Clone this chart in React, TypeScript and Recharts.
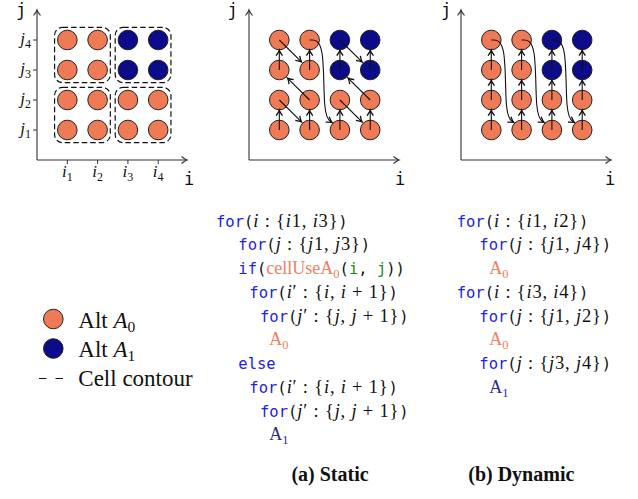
import React from "react";
import { ScatterChart, Scatter, XAxis, YAxis, ReferenceArea } from "recharts";

// grid of cells
const cellI = [1, 2, 3, 4];
const cellJ = [1, 2, 3, 4];
// alternative per cell, rows j1..j4, columns i1..i4
const cellAlt = [
  [0, 0, 0, 0],
  [0, 0, 0, 0],
  [0, 0, 1, 1],
  [0, 0, 1, 1],
];
const iTickLabels = ["1", "2", "3", "4"];
const jTickLabels = ["1", "2", "3", "4"];

// cell contours: [iFrom, iTo, jFrom, jTo]
const cellBlocks = [
  [1, 2, 1, 2],
  [3, 4, 1, 2],
  [1, 2, 3, 4],
  [3, 4, 3, 4],
];

// visiting order of the cells (i, j)
const staticOrder = [
  [1, 1], [1, 2], [2, 1], [2, 2],
  [1, 3], [1, 4], [2, 3], [2, 4],
  [3, 1], [3, 2], [4, 1], [4, 2],
  [3, 3], [3, 4], [4, 3], [4, 4],
];
const dynamicOrder = [
  [1, 1], [1, 2], [1, 3], [1, 4],
  [2, 1], [2, 2], [2, 3], [2, 4],
  [3, 1], [3, 2], [3, 3], [3, 4],
  [4, 1], [4, 2], [4, 3], [4, 4],
];

type Seg = [string, string, string?];

const staticCode: [number, Seg[]][] = [
  [216, [["kw", "for"], ["m", "("], ["x", "i : {i1, i3}"], ["m", ")"]]],
  [238.3, [["kw", "for"], ["m", "("], ["x", "j : {j1, j3}"], ["m", ")"]]],
  [238.3, [["kw", "if"], ["m", "("], ["c0", "cellUseA", "0"], ["m", "("], ["g", "i"], ["m", ", "], ["g", "j"], ["m", "))"]]],
  [249.3, [["kw", "for"], ["m", "("], ["x", "i\u2032 : {i, i + 1}"], ["m", ")"]]],
  [260, [["kw", "for"], ["m", "("], ["x", "j\u2032 : {j, j + 1}"], ["m", ")"]]],
  [269.3, [["c0", "A", "0"]]],
  [238.3, [["kw", "else"]]],
  [249.3, [["kw", "for"], ["m", "("], ["x", "i\u2032 : {i, i + 1}"], ["m", ")"]]],
  [260, [["kw", "for"], ["m", "("], ["x", "j\u2032 : {j, j + 1}"], ["m", ")"]]],
  [269.3, [["c1", "A", "1"]]],
];

const dynamicCode: [number, Seg[]][] = [
  [456.7, [["kw", "for"], ["m", "("], ["x", "i : {i1, i2}"], ["m", ")"]]],
  [479.3, [["kw", "for"], ["m", "("], ["x", "j : {j1, j4}"], ["m", ")"]]],
  [489.3, [["c0", "A", "0"]]],
  [456.7, [["kw", "for"], ["m", "("], ["x", "i : {i3, i4}"], ["m", ")"]]],
  [479.3, [["kw", "for"], ["m", "("], ["x", "j : {j1, j2}"], ["m", ")"]]],
  [489.3, [["c0", "A", "0"]]],
  [479.3, [["kw", "for"], ["m", "("], ["x", "j : {j3, j4}"], ["m", ")"]]],
  [489.3, [["c1", "A", "1"]]],
];

const ORANGE = "#ef7b56";
const NAVY = "#0c0c8a";
const INK = "#222";
const MONO = "DejaVu Sans Mono";
const SERIF = "Liberation Serif";

const segStyle: Record<string, { font: string; size: number; color: string; ls?: number }> = {
  kw: { font: MONO, size: 15.5, color: "#2323e4" },
  m: { font: MONO, size: 15.5, color: "#111" },
  g: { font: MONO, size: 15.5, color: "#1d8a1d" },
  x: { font: SERIF, size: 18.5, color: "#111", ls: 0.8 },
  c0: { font: SERIF, size: 18, color: "#ee7f5e" },
  c1: { font: SERIF, size: 18, color: "#2b2b8e" },
};

const points = (alt: number) =>
  cellJ.flatMap((j, r) =>
    cellI.filter((_, c) => cellAlt[r][c] === alt).map((i) => ({ x: i, y: j }))
  );
const a0Points = points(0);
const a1Points = points(1);

const R = 0.34; // circle radius in axis units

function buildArrows(order: number[][]) {
  const out: { pts: { x: number; y: number }[]; curve: boolean }[] = [];
  for (let k = 1; k < order.length; k++) {
    const [i0, j0] = order[k - 1];
    const [i1, j1] = order[k];
    if (j0 - j1 >= 3) {
      out.push({
        curve: true,
        pts: [
          { x: i0, y: j0 },
          { x: i0 + 0.5, y: j0 },
          { x: i0 + 0.44, y: j1 + 0.45 },
          { x: i1 - 0.26, y: j1 + 0.25 },
        ],
      });
    } else {
      const dx = i1 - i0;
      const dy = j1 - j0;
      const len = Math.hypot(dx, dy);
      const r = dx === 0 ? R : R + 0.04;
      out.push({
        curve: false,
        pts: [
          { x: i0, y: j0 },
          { x: i1 - (dx / len) * r, y: j1 - (dy / len) * r },
        ],
      });
    }
  }
  return out;
}

const dot = (fill: string) => (p: any) => (
  <circle cx={p.cx} cy={p.cy} r={9.8} fill={fill} stroke={INK} strokeWidth={1} />
);
const noDot = () => <g />;

const DashedBox = (p: any) => (
  <rect
    x={p.x}
    y={p.y}
    width={p.width}
    height={p.height}
    rx={8}
    ry={8}
    fill="none"
    stroke="#111"
    strokeWidth={1.2}
    strokeDasharray="5.5 3"
  />
);

const ITick = (p: any) => (
  <text x={p.x} y={p.y + 11} textAnchor="middle" fontFamily={SERIF} fontSize={17} fill="#111">
    <tspan fontStyle="italic">i</tspan>
    <tspan fontSize={12} dy={4}>{iTickLabels[p.payload.value - 1]}</tspan>
  </text>
);
const JTick = (p: any) => (
  <text x={p.x} y={p.y + 4} textAnchor="end" fontFamily={SERIF} fontSize={17} fill="#111">
    <tspan fontStyle="italic">j</tspan>
    <tspan fontSize={12} dy={4}>{jTickLabels[p.payload.value - 1]}</tspan>
  </text>
);

const axisStyle = { stroke: "#333", strokeWidth: 1.1 };

function Panel({ left, order, full }: { left: number; order?: number[][]; full?: boolean }) {
  const arrows = order ? buildArrows(order) : [];
  return (
    <div style={{ position: "absolute", left, top: 0 }}>
      <ScatterChart width={200} height={190} margin={{ top: 10, right: 13, bottom: 0, left: 0 }}>
        <XAxis
          type="number"
          dataKey="x"
          domain={[0, 4.95]}
          allowDataOverflow
          height={30}
          ticks={cellI}
          tick={full ? ITick : false}
          tickLine={full ? { stroke: "#333" } : false}
          tickSize={4}
          axisLine={{ ...axisStyle, markerEnd: "url(#axisTip)" }}
        />
        <YAxis
          type="number"
          dataKey="y"
          domain={[0, 5]}
          allowDataOverflow
          width={37}
          ticks={cellJ}
          tick={full ? JTick : false}
          tickLine={full ? { stroke: "#333" } : false}
          tickSize={4}
          axisLine={{ ...axisStyle, markerStart: "url(#axisTip)" }}
        />
        {full &&
          cellBlocks.map((b, n) => (
            <ReferenceArea
              key={n}
              x1={b[0] - 0.42}
              x2={b[1] + 0.42}
              y1={b[2] - 0.42}
              y2={b[3] + 0.42}
              shape={DashedBox}
            />
          ))}
        <Scatter data={a0Points} shape={dot(ORANGE)} isAnimationActive={false} />
        <Scatter data={a1Points} shape={dot(NAVY)} isAnimationActive={false} />
        {arrows.map((a, n) => (
          <Scatter
            key={n}
            data={a.pts}
            shape={noDot}
            line={{ stroke: "#111", strokeWidth: 1.1, fill: "none", markerEnd: "url(#linkTip)" }}
            lineType="joint"
            lineJointType={a.curve ? "basis" : "linear"}
            isAnimationActive={false}
          />
        ))}
      </ScatterChart>
    </div>
  );
}

function CodeLine({ x, y, segs }: { x: number; y: number; segs: Seg[] }) {
  const parts: React.ReactNode[] = [];
  let pending = 0;
  segs.forEach(([kind, text, sub], n) => {
    const s = segStyle[kind];
    const pieces = kind === "x" ? text.split(/([ij])/).filter(Boolean) : [text];
    pieces.forEach((p, m) => {
      parts.push(
        <tspan
          key={`${n}-${m}`}
          dy={pending || undefined}
          fontFamily={s.font}
          fontSize={s.size}
          fill={s.color}
          letterSpacing={s.ls}
          fontStyle={kind === "x" && (p === "i" || p === "j") ? "italic" : "normal"}
        >
          {p}
        </tspan>
      );
      pending = 0;
    });
    if (sub) {
      parts.push(
        <tspan key={`${n}-s`} dy={4} fontFamily={s.font} fontSize={12.5} fill={s.color}>
          {sub}
        </tspan>
      );
      pending = -4;
    }
  });
  return (
    <text x={x} y={y} style={{ whiteSpace: "pre" }}>
      {parts}
    </text>
  );
}

const LINE0 = 226.7;
const LINE_STEP = 23.75;

export default function App() {
  return (
    <div
      style={{
        position: "absolute",
        left: 0,
        top: 0,
        width: 638,
        height: 499,
        background: "#fff",
        overflow: "hidden",
      }}
    >
      <svg width={0} height={0} style={{ position: "absolute" }}>
        <defs>
          <marker
            id="axisTip"
            viewBox="-7 -5 9 10"
            refX={0}
            refY={0}
            markerWidth={9}
            markerHeight={10}
            markerUnits="userSpaceOnUse"
            orient="auto-start-reverse"
          >
            <path d="M-5.5,-3.5 Q-2,-0.6 0,0 Q-2,0.6 -5.5,3.5" fill="none" stroke="#333" strokeWidth={1.1} />
          </marker>
          <marker
            id="linkTip"
            viewBox="-7 -5 9 10"
            refX={0}
            refY={0}
            markerWidth={9}
            markerHeight={10}
            markerUnits="userSpaceOnUse"
            orient="auto"
          >
            <path d="M-5.5,-3.2 Q-2,-0.6 0,0 Q-2,0.6 -5.5,3.2" fill="none" stroke="#111" strokeWidth={1.3} />
          </marker>
        </defs>
      </svg>

      <Panel left={0} full />
      <Panel left={212} order={staticOrder} />
      <Panel left={424} order={dynamicOrder} />

      <svg width={638} height={499} style={{ position: "absolute", left: 0, top: 0, pointerEvents: "none" }}>
        {/* axis names */}
        {[
          [21, 189],
          [232.5, 400],
          [446, 610],
        ].map(([jx, ix], n) => (
          <g key={n} fontFamily={MONO} fontSize={17} fill="#111" textAnchor="middle">
            <text x={jx} y={16}>j</text>
            <text x={ix} y={185}>i</text>
          </g>
        ))}

        {/* legend */}
        <circle cx={53.3} cy={319} r={9.8} fill={ORANGE} stroke={INK} />
        <circle cx={53.3} cy={348.5} r={9.8} fill={NAVY} stroke={INK} />
        <line x1={39} x2={63.5} y1={378.5} y2={378.5} stroke="#111" strokeWidth={1.2} strokeDasharray="7.5 9" />
        <g fontFamily={SERIF} fontSize={23} fill="#111" style={{ whiteSpace: "pre" }}>
          <text x={78.3} y={328.3}>
            Alt <tspan fontStyle="italic">A</tspan>
            <tspan fontSize={15.5} dy={4}>0</tspan>
          </text>
          <text x={78.3} y={357.3}>
            Alt <tspan fontStyle="italic">A</tspan>
            <tspan fontSize={15.5} dy={4}>1</tspan>
          </text>
          <text x={78.3} y={385.5}>Cell contour</text>
        </g>

        {/* code */}
        {staticCode.map(([x, segs], n) => (
          <CodeLine key={`s${n}`} x={x} y={LINE0 + n * LINE_STEP} segs={segs} />
        ))}
        {dynamicCode.map(([x, segs], n) => (
          <CodeLine key={`d${n}`} x={x} y={LINE0 + n * LINE_STEP} segs={segs} />
        ))}

        {/* captions */}
        <g fontFamily={SERIF} fontSize={20} fontWeight="bold" fill="#111" textAnchor="middle">
          <text x={330} y={481}>(a) Static</text>
          <text x={521.3} y={481}>(b) Dynamic</text>
        </g>
      </svg>
    </div>
  );
}
